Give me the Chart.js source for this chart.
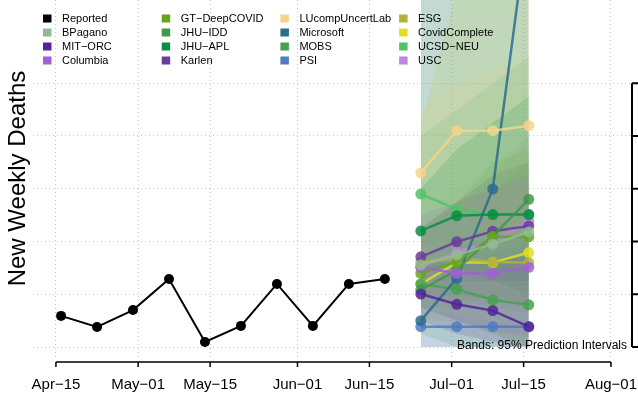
<!DOCTYPE html>
<html>
<head>
<meta charset="utf-8">
<script src="https://cdn.jsdelivr.net/npm/chart.js@4.4.0/dist/chart.umd.min.js"></script>
<style>
    html, body { margin: 0; padding: 0; background: #fff; }
    #wrap { width: 638px; height: 397px; }
</style>
</head>
<body>
<div id="wrap"><canvas id="myChart"></canvas></div>
<script>
// x values are days counted from Apr-15
var tickDays = [0, 16, 30, 47, 61, 77, 91, 108];
var tickLabels = ['Apr−15', 'May−01', 'May−15', 'Jun−01', 'Jun−15', 'Jul−01', 'Jul−15', 'Aug−01'];
var yTicks = [0, 200, 400, 600, 800, 1000];

var reportedDays = [1, 8, 15, 22, 29, 36, 43, 50, 57, 64];
var reported = [118, 76, 140, 258, 19, 80, 239, 80, 239, 258];

var forecastDays = [71, 78, 85, 92];
var models = ['BPagano', 'MIT−ORC', 'Columbia', 'GT−DeepCOVID', 'JHU−IDD', 'JHU−APL', 'Karlen',
    'LUcompUncertLab', 'Microsoft', 'MOBS', 'PSI', 'ESG', 'CovidComplete', 'UCSD−NEU', 'USC'];
var colors = ['#8FBC8F', '#55249A', '#A35FD6', '#66A61E', '#41984D', '#078D44', '#6A3D9A',
    '#F5D38A', '#2B6C8F', '#45A14F', '#4F7CBF', '#B3B338', '#DFE11E', '#4FC466', '#BC86E0'];

// point forecasts (one row per model)
var median = [
    [311, 349, 390, 436],
    [201, 162, 138, 77],
    [302, 279, 279, 302],
    [279, 323, 418, 418],
    [216, 292, 421, 560],
    [440, 498, 502, 502],
    [342, 399, 439, 459],
    [660, 820, 820, 839],
    [100, 260, 599, 1630],
    [239, 219, 178, 160],
    [77, 77, 77, 77],
    [322, 337, 322, 320],
    [239, 320, 320, 358],
    [580, 522, 502, 502],
    [303, 360, 398, 477]
];
// 95% prediction intervals
var lower95 = [
    [150, 120, 100, 80],
    [100, 50, 20, 0],
    [150, 100, 60, 40],
    [150, 150, 200, 150],
    [50, 0, 0, 0],
    [300, 300, 250, 200],
    [250, 250, 250, 250],
    [400, 500, 450, 400],
    [0, 0, 0, 0],
    [150, 100, 50, 0],
    [0, 0, 0, 0],
    [200, 180, 150, 130],
    [100, 100, 50, 0],
    [400, 350, 300, 250],
    [200, 200, 180, 150]
];
var upper95 = [
    [500, 600, 700, 800],
    [320, 320, 330, 340],
    [500, 550, 600, 650],
    [450, 550, 700, 750],
    [1400, 1600, 1800, 2000],
    [600, 750, 850, 950],
    [450, 550, 650, 700],
    [900, 1000, 1050, 1100],
    [1600, 1800, 2200, 2600],
    [350, 380, 400, 420],
    [200, 300, 350, 400],
    [450, 550, 600, 700],
    [850, 1350, 1450, 1500],
    [800, 900, 1000, 1100],
    [400, 550, 650, 800]
];

var fontFam = '"Liberation Sans", Arial, Helvetica, sans-serif';

function hexA(hex, a) {
    var r = parseInt(hex.slice(1, 3), 16), g = parseInt(hex.slice(3, 5), 16), b = parseInt(hex.slice(5, 7), 16);
    return 'rgba(' + r + ',' + g + ',' + b + ',' + a + ')';
}
function toXY(xs, ys) {
    return xs.map(function (x, i) { return { x: x, y: ys[i] }; });
}

var datasets = [];
datasets.push({
    label: 'Reported',
    data: toXY(reportedDays, reported),
    borderColor: '#000',
    backgroundColor: '#000',
    borderWidth: 2,
    pointRadius: 5,
    pointBorderWidth: 0,
    order: 0
});
models.forEach(function (m, i) {
    datasets.push({
        label: m,
        data: toXY(forecastDays, median[i]),
        borderColor: hexA(colors[i], 0.85),
        backgroundColor: hexA(colors[i], 0.85),
        borderWidth: 2.5,
        pointRadius: 5.5,
        pointBorderWidth: 0,
        order: 1
    });
});
models.forEach(function (m, i) {
    datasets.push({
        label: m + ' upper',
        data: toXY(forecastDays, upper95[i]),
        borderWidth: 0,
        pointRadius: 0,
        backgroundColor: hexA(colors[i], 0.16),
        fill: '+1',
        order: 100
    });
    datasets.push({
        label: m + ' lower',
        data: toXY(forecastDays, lower95[i]),
        borderWidth: 0,
        pointRadius: 0,
        fill: false,
        order: 100
    });
});

// R-style axes, legend and the band note
var rStyle = {
    id: 'rStyle',
    afterDatasetsDraw: function (chart) {
        var ctx = chart.ctx, area = chart.chartArea;
        var xs = chart.scales.x, ys = chart.scales.y;
        ctx.save();
        ctx.strokeStyle = '#000';
        ctx.lineWidth = 1.5;
        // x axis
        var ay = area.bottom + 5;
        ctx.beginPath();
        ctx.moveTo(xs.getPixelForValue(tickDays[0]), ay);
        ctx.lineTo(xs.getPixelForValue(tickDays[tickDays.length - 1]), ay);
        tickDays.forEach(function (d) {
            var px = xs.getPixelForValue(d);
            ctx.moveTo(px, ay);
            ctx.lineTo(px, ay + 5);
        });
        ctx.stroke();
        // right y axis
        var ax = area.right + 2;
        ctx.lineWidth = 2;
        ctx.beginPath();
        ctx.moveTo(ax, ys.getPixelForValue(yTicks[0]));
        ctx.lineTo(ax, ys.getPixelForValue(yTicks[yTicks.length - 1]));
        yTicks.forEach(function (v) {
            var py = ys.getPixelForValue(v);
            ctx.moveTo(ax, py);
            ctx.lineTo(ax + 10, py);
        });
        ctx.stroke();

        // band note
        ctx.fillStyle = '#000';
        ctx.font = '12px ' + fontFam;
        ctx.textAlign = 'right';
        ctx.textBaseline = 'middle';
        ctx.fillText('Bands: 95% Prediction Intervals', 627, 346);

        // legend, filled column by column
        var names = ['Reported'].concat(models);
        var cols = ['#000000'].concat(colors);
        ctx.font = '11px ' + fontFam;
        ctx.textAlign = 'left';
        names.forEach(function (n, k) {
            var c = Math.floor(k / 4), r = k % 4;
            var bx = 43 + c * 118.7, cy = 18.5 + r * 14;
            ctx.fillStyle = cols[k];
            ctx.fillRect(bx, cy - 4, 8.5, 8);
            ctx.fillStyle = '#000';
            ctx.fillText(n, bx + 19, cy);
        });
        ctx.restore();
    }
};

var ctx = document.getElementById('myChart').getContext('2d');
var myChart = new Chart(ctx, {
    type: 'line',
    data: { datasets: datasets },
    plugins: [rStyle],
    options: {
        responsive: true,
        maintainAspectRatio: false,
        animation: false,
        layout: { autoPadding: false, padding: { left: 0, right: 8, top: 0, bottom: 0 } },
        plugins: {
            legend: { display: false },
            tooltip: { enabled: false },
            title: { display: false }
        },
        scales: {
            x: {
                type: 'linear',
                min: -4.5,
                max: 111.7,
                afterBuildTicks: function (scale) {
                    scale.ticks = tickDays.map(function (d) { return { value: d }; });
                },
                afterFit: function (scale) {
                    scale.paddingLeft = 0;
                    scale.paddingRight = 0;
                    scale.height = 40;
                },
                ticks: {
                    autoSkip: false,
                    maxRotation: 0,
                    padding: 19,
                    color: '#000',
                    font: { family: fontFam, size: 15 },
                    callback: function (v) {
                        var i = tickDays.indexOf(v);
                        return i >= 0 ? tickLabels[i] : '';
                    }
                },
                grid: { color: '#C8C8C8', drawTicks: false },
                border: { display: false, dash: [1, 3] }
            },
            y: {
                type: 'linear',
                position: 'left',
                min: -37.9,
                max: 1315.6,
                afterBuildTicks: function (scale) {
                    scale.ticks = yTicks.map(function (v) { return { value: v }; });
                },
                ticks: { display: false },
                grid: { color: '#C8C8C8', drawTicks: false },
                border: { display: false, dash: [1, 3] },
                title: {
                    display: true,
                    text: 'New Weekly Deaths',
                    color: '#000',
                    font: { family: fontFam, size: 24 },
                    padding: { top: 4, bottom: 0 }
                }
            }
        }
    }
});
</script>
</body>
</html>
